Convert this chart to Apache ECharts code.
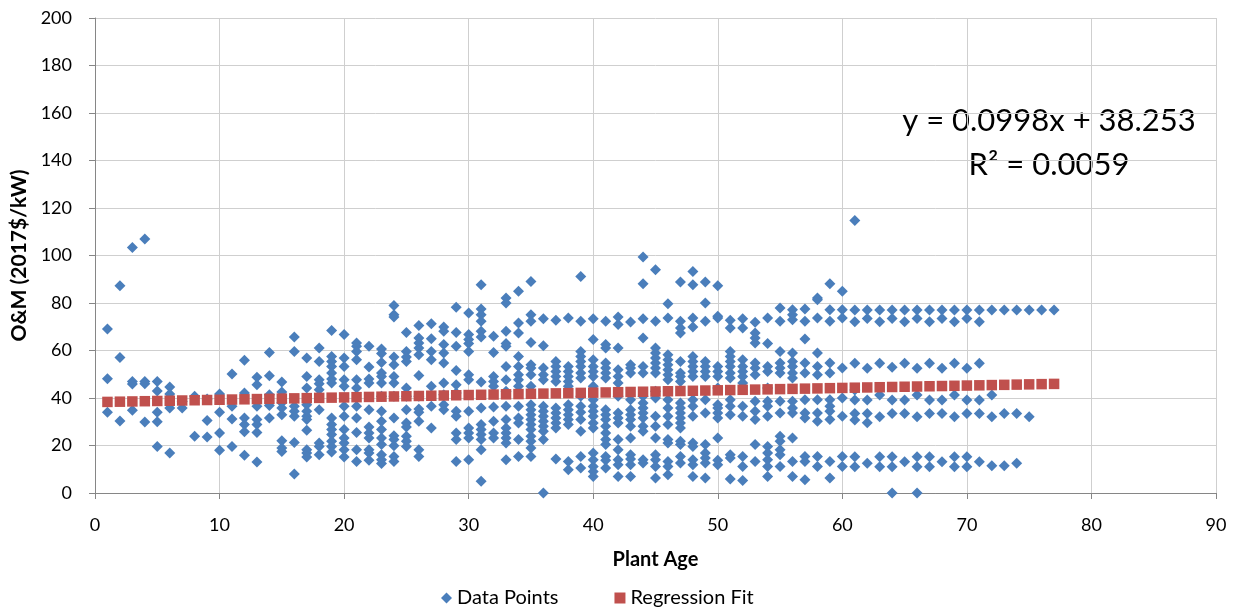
<!DOCTYPE html>
<html>
<head>
<meta charset="utf-8">
<script src="https://cdn.jsdelivr.net/npm/echarts@6/dist/echarts.min.js"></script>
<style>
  html, body { margin: 0; padding: 0; background: #fff; }
  #chart { width: 1236px; height: 607px; }
</style>
</head>
<body>
<div id="chart"></div>
<script>
// O&M cost observations (2017$/kW), grouped by plant age: [age, [values...]]
const agesOneToTen = [
  [1, [69.1, 48.1, 34.0]],
  [2, [87.3, 57.1, 30.3]],
  [3, [103.4, 47.0, 45.9, 34.8]],
  [4, [107.0, 47.0, 46.0, 29.9]],
  [5, [47.0, 43.0, 34.0, 30.0, 19.6]],
  [6, [44.6, 41.7, 35.8, 16.8]],
  [7, [35.8, 38.5]],
  [8, [40.7, 23.9]],
  [9, [39.6, 30.5, 23.6]],
  [10, [41.7, 34.0, 25.3, 18.0]]
];
const agesElevenToTwenty = [
  [11, [50.1, 36.5, 31.2, 19.6]],
  [12, [55.9, 42.1, 31.6, 28.8, 25.8, 15.9]],
  [13, [48.7, 45.6, 36.5, 30.9, 28.8, 25.5, 13.1]],
  [14, [59.2, 49.4, 41.4, 36.8, 31.6]],
  [15, [46.7, 42.5, 38.0, 35.8, 33.0, 22.0, 18.9, 17.5]],
  [16, [65.7, 59.6, 36.5, 34.4, 32.3, 21.3, 8.0]],
  [17, [56.8, 49.1, 44.2, 37.2, 34.4, 32.3, 30.9, 26.4, 18.2, 16.8, 15.2]],
  [18, [61.1, 55.4, 47.7, 46.0, 43.5, 35.1, 21.1, 19.6, 16.1]],
  [19, [68.4, 57.5, 55.4, 53.3, 50.5, 48.0, 46.3, 31.6, 28.8, 26.7, 24.6, 21.8, 19.6, 17.3]],
  [20, [66.7, 56.8, 53.3, 47.7, 44.9, 36.5, 32.3, 26.7, 23.2, 21.1, 18.2, 15.2]]
];
const agesTwentyOneToThirty = [
  [21, [63.2, 61.8, 59.6, 56.1, 47.7, 44.2, 36.5, 31.6, 25.5, 18.2, 13.3]],
  [22, [61.8, 53.1, 48.0, 46.3, 35.1, 27.8, 25.3, 23.2, 18.2, 16.8, 13.8]],
  [23, [60.6, 58.7, 55.0, 50.5, 49.1, 46.3, 40.7, 34.4, 30.2, 26.7, 23.2, 20.4, 16.1, 14.0, 12.4]],
  [24, [79.0, 75.1, 74.1, 57.3, 54.0, 49.1, 46.3, 40.7, 31.6, 24.1, 22.5, 19.9, 15.4, 13.3]],
  [25, [67.6, 59.6, 57.3, 55.4, 44.2, 40.7, 35.1, 29.5, 27.8, 23.9, 21.8, 19.6]],
  [26, [70.5, 65.3, 63.2, 61.1, 58.2, 49.5, 40.7, 35.4, 34.0, 30.2, 18.2, 15.4]],
  [27, [71.3, 65.0, 59.6, 56.1, 44.9, 36.5, 27.4]],
  [28, [69.9, 68.1, 62.5, 58.9, 54.7, 46.3, 41.4, 37.2, 35.1]],
  [29, [78.2, 67.6, 61.8, 51.6, 45.6, 42.1, 34.4, 32.3, 25.3, 22.5, 13.3]],
  [30, [75.8, 66.7, 64.6, 62.9, 59.6, 49.8, 47.7, 34.4, 27.4, 25.3, 23.2, 14.0]]
];
const agesThirtyOneToForty = [
  [31, [87.7, 77.5, 75.1, 72.3, 68.1, 65.7, 46.7, 35.8, 28.8, 26.7, 24.6, 22.5, 18.2, 4.9]],
  [32, [66.0, 59.2, 49.1, 47.0, 44.9, 36.2, 30.2, 25.3, 23.2]],
  [33, [82.1, 80.0, 68.1, 62.9, 61.8, 53.3, 47.7, 42.8, 36.5, 30.9, 27.4, 25.3, 23.2, 21.1, 14.0]],
  [34, [84.9, 71.6, 67.4, 57.5, 53.3, 49.8, 47.7, 44.9, 36.5, 31.6, 29.5, 22.5, 15.4]],
  [35, [89.1, 75.1, 72.3, 63.4, 54.0, 52.6, 49.8, 44.9, 37.2, 35.1, 33.0, 30.9, 28.8, 26.7, 23.9, 21.8, 18.9, 15.4]],
  [36, [73.4, 62.0, 52.6, 49.8, 47.7, 36.5, 34.4, 32.3, 30.2, 28.1, 26.0, 22.5, 0.0]],
  [37, [72.7, 55.4, 53.3, 51.2, 49.1, 47.0, 35.8, 33.7, 31.6, 29.5, 27.4, 14.3]],
  [38, [73.7, 53.3, 51.2, 49.1, 47.0, 44.9, 37.2, 35.1, 33.0, 30.9, 28.8, 13.3, 9.8]],
  [39, [91.2, 72.3, 59.6, 57.5, 55.4, 53.3, 50.5, 48.4, 40.7, 36.5, 34.0, 30.9, 26.0, 15.4, 10.5]],
  [40, [73.4, 64.6, 56.1, 53.3, 51.2, 49.1, 44.9, 39.3, 36.5, 34.4, 32.3, 29.5, 27.4, 16.8, 14.0, 11.2, 9.1, 7.0]]
];
const agesFortyOneToFifty = [
  [41, [72.3, 62.5, 61.1, 54.7, 52.6, 50.5, 48.4, 35.1, 33.0, 30.9, 28.1, 25.3, 22.5, 20.4, 15.4, 13.8, 10.5]],
  [42, [74.1, 70.9, 61.1, 51.9, 49.1, 46.3, 40.7, 33.7, 31.6, 29.5, 22.5, 18.2, 14.0, 11.9, 7.0]],
  [43, [72.0, 54.0, 52.6, 50.5, 39.3, 35.1, 33.0, 30.9, 28.1, 23.2, 16.1, 14.3, 11.9, 7.0]],
  [44, [99.4, 88.1, 73.4, 65.3, 53.3, 50.5, 40.7, 37.9, 35.8, 33.7, 31.6, 28.1, 26.0, 14.0, 12.6]],
  [45, [94.0, 72.3, 61.1, 58.9, 56.8, 54.7, 52.6, 50.5, 42.8, 40.0, 32.3, 28.1, 23.2, 16.1, 14.0, 11.2, 6.3]],
  [46, [79.7, 73.7, 58.2, 56.1, 54.0, 51.9, 49.8, 47.7, 39.3, 35.8, 32.3, 28.8, 22.5, 21.1, 13.3, 11.2, 7.7]],
  [47, [88.8, 72.3, 69.5, 67.4, 55.4, 50.5, 49.1, 47.0, 37.9, 35.8, 33.7, 31.6, 29.5, 27.4, 21.8, 20.4, 15.4, 12.6]],
  [48, [93.3, 87.7, 73.7, 69.9, 57.5, 55.4, 53.3, 51.2, 49.1, 39.3, 36.5, 32.3, 21.1, 19.6, 14.0, 11.9, 7.0]],
  [49, [88.8, 80.0, 72.3, 55.4, 53.3, 51.2, 49.1, 39.3, 33.7, 20.4, 16.8, 14.7, 12.6, 6.3]],
  [50, [87.3, 74.4, 73.7, 53.3, 51.2, 49.1, 44.2, 37.2, 35.8, 33.7, 31.6, 23.2, 13.8, 11.9]]
];
const agesFiftyOneToSixty = [
  [51, [72.7, 69.5, 59.6, 57.5, 55.4, 53.3, 50.5, 48.4, 39.3, 36.5, 33.0, 16.1, 14.7, 5.9]],
  [52, [73.4, 69.5, 56.1, 53.3, 51.2, 49.1, 46.3, 36.5, 32.3, 15.4, 11.2, 5.3]],
  [53, [71.9, 67.4, 65.3, 63.2, 54.7, 52.6, 49.8, 38.6, 34.4, 30.9, 20.4, 13.3]],
  [54, [73.7, 62.9, 53.3, 51.2, 44.2, 38.6, 36.5, 32.3, 19.6, 16.8, 14.0, 11.2, 7.0]],
  [55, [77.9, 72.3, 59.6, 54.7, 52.6, 50.5, 38.6, 33.7, 23.9, 21.8, 18.2, 16.1, 11.2]],
  [56, [77.2, 75.1, 73.0, 58.9, 55.4, 53.3, 50.5, 48.4, 38.6, 35.8, 33.7, 23.2, 13.3, 7.0]],
  [57, [77.5, 72.3, 64.8, 54.7, 50.5, 39.3, 33.7, 31.6, 15.4, 13.3, 5.6]],
  [58, [82.1, 81.4, 73.7, 58.9, 53.3, 49.8, 39.3, 33.7, 30.2, 15.4, 11.2]],
  [59, [88.1, 77.2, 72.3, 54.7, 50.5, 39.3, 36.5, 34.4, 30.9, 13.3, 6.3]],
  [60, [84.9, 77.2, 73.7, 52.6, 40.0, 32.3, 15.4, 11.2]]
];
const agesSixtyOneToSeventySeven = [
  [61, [114.7, 77.1, 72.1, 54.6, 43.4, 39.2, 33.5, 30.7, 15.3, 11.1]],
  [62, [77.1, 73.5, 52.5, 39.2, 33.5, 29.6, 12.5]],
  [63, [77.1, 72.1, 54.6, 41.3, 32.1, 15.3, 11.1]],
  [64, [77.1, 73.5, 52.9, 39.2, 33.5, 15.3, 11.1, 0.0]],
  [65, [77.1, 72.1, 54.6, 39.2, 33.5, 13.2]],
  [66, [77.1, 73.5, 52.5, 41.3, 32.1, 15.3, 11.1, 0.0]],
  [67, [77.1, 72.1, 54.6, 39.2, 33.5, 15.3, 11.1]],
  [68, [77.1, 73.5, 52.5, 39.2, 33.5, 13.2]],
  [69, [77.1, 72.1, 54.6, 41.3, 32.1, 15.3, 11.1]],
  [70, [77.1, 73.5, 52.5, 39.2, 33.5, 15.3, 11.1]],
  [71, [77.1, 72.1, 54.6, 39.2, 33.5, 13.2]],
  [72, [77.1, 41.3, 32.1, 11.5]],
  [73, [77.1, 33.5, 11.5]],
  [74, [77.1, 33.5, 12.5]],
  [75, [77.1, 32.1]],
  [76, [77.1]],
  [77, [77.1]]
];

// Fitted values of y = 0.0998x + 38.253 at each plant age
const fitAges = [1, 2, 3, 4, 5, 6, 7, 8, 9, 10, 11, 12, 13, 14, 15, 16, 17, 18, 19, 20,
  21, 22, 23, 24, 25, 26, 27, 28, 29, 30, 31, 32, 33, 34, 35, 36, 37, 38, 39, 40,
  41, 42, 43, 44, 45, 46, 47, 48, 49, 50, 51, 52, 53, 54, 55, 56, 57, 58, 59, 60,
  61, 62, 63, 64, 65, 66, 67, 68, 69, 70, 71, 72, 73, 74, 75, 76, 77];
const fitValues = [38.35, 38.45, 38.55, 38.65, 38.75, 38.85, 38.95, 39.05, 39.15, 39.25,
  39.35, 39.45, 39.55, 39.65, 39.75, 39.85, 39.95, 40.05, 40.15, 40.25,
  40.35, 40.45, 40.55, 40.65, 40.75, 40.85, 40.95, 41.05, 41.15, 41.25,
  41.35, 41.45, 41.55, 41.65, 41.75, 41.85, 41.95, 42.05, 42.15, 42.25,
  42.34, 42.44, 42.54, 42.64, 42.74, 42.84, 42.94, 43.04, 43.14, 43.24,
  43.34, 43.44, 43.54, 43.64, 43.74, 43.84, 43.94, 44.04, 44.14, 44.24,
  44.34, 44.44, 44.54, 44.64, 44.74, 44.84, 44.94, 45.04, 45.14, 45.24,
  45.34, 45.44, 45.54, 45.64, 45.74, 45.84, 45.94];

const xTicks = { min: 0, max: 90, step: 10 };
const yTicks = { min: 0, max: 200, step: 20 };

const equationText = 'y = 0.0998x + 38.253';
const rSquaredText = 'R² = 0.0059';

const pointGroups = [agesOneToTen, agesElevenToTwenty, agesTwentyOneToThirty,
  agesThirtyOneToForty, agesFortyOneToFifty, agesFiftyOneToSixty, agesSixtyOneToSeventySeven];
const dataPoints = [];
pointGroups.forEach(group => group.forEach(([age, vals]) => {
  vals.forEach(v => dataPoints.push([age, v]));
}));
const fitPoints = fitAges.map((a, i) => [a, fitValues[i]]);

const FONT = 'Lato, "Open Sans", sans-serif';
const BLUE = '#4a7ebb';
const RED = '#c0504d';

const chart = echarts.init(document.getElementById('chart'), null, { renderer: 'canvas' });
chart.setOption({
  animation: false,
  backgroundColor: '#ffffff',
  textStyle: { fontFamily: FONT },
  grid: { left: 95, right: 20, top: 18, bottom: 114, containLabel: false },
  xAxis: {
    type: 'value',
    min: xTicks.min, max: xTicks.max, interval: xTicks.step,
    name: 'Plant Age',
    nameLocation: 'middle',
    nameGap: 57,
    nameTextStyle: { fontFamily: FONT, fontWeight: 'bold', fontSize: 20, color: '#000' },
    axisLine: { show: true, lineStyle: { color: '#868686', width: 1 } },
    axisTick: { show: true, length: 6, lineStyle: { color: '#868686' } },
    axisLabel: { fontFamily: FONT, fontSize: 18, color: '#000', margin: 23 },
    splitLine: { show: true, lineStyle: { color: '#cfcfcf', width: 1 } }
  },
  yAxis: {
    type: 'value',
    min: yTicks.min, max: yTicks.max, interval: yTicks.step,
    name: 'O&M (2017$/kW)',
    nameLocation: 'middle',
    nameGap: 62,
    nameTextStyle: { fontFamily: FONT, fontWeight: 'bold', fontSize: 21, color: '#000' },
    axisLine: { show: true, lineStyle: { color: '#868686', width: 1 } },
    axisTick: { show: true, length: 6, lineStyle: { color: '#868686' } },
    axisLabel: { fontFamily: FONT, fontSize: 18, color: '#000', margin: 23 },
    splitLine: { show: true, lineStyle: { color: '#cfcfcf', width: 1 } }
  },
  legend: {
    left: 436,
    bottom: -6,
    itemGap: 56,
    itemWidth: 11,
    itemHeight: 11,
    textStyle: { fontFamily: FONT, fontSize: 20, color: '#000' },
    data: [
      { name: 'Data Points', icon: 'diamond' },
      { name: 'Regression Fit', icon: 'rect' }
    ]
  },
  graphic: [
    {
      type: 'text',
      x: 1049, y: 121,
      style: { text: equationText, font: '31px ' + FONT, fill: '#000', textAlign: 'center', textVerticalAlign: 'middle' }
    },
    {
      type: 'text',
      x: 1049, y: 165,
      style: { text: rSquaredText, font: '31px ' + FONT, fill: '#000', textAlign: 'center', textVerticalAlign: 'middle' }
    }
  ],
  series: [
    {
      name: 'Data Points',
      type: 'scatter',
      symbol: 'diamond',
      symbolSize: [11, 11],
      itemStyle: { color: BLUE, opacity: 1 },
      data: dataPoints,
      z: 2
    },
    {
      name: 'Regression Fit',
      type: 'scatter',
      symbol: 'rect',
      symbolSize: [10.5, 10.5],
      itemStyle: { color: RED, opacity: 1 },
      data: fitPoints,
      z: 3
    }
  ]
});
</script>
</body>
</html>
